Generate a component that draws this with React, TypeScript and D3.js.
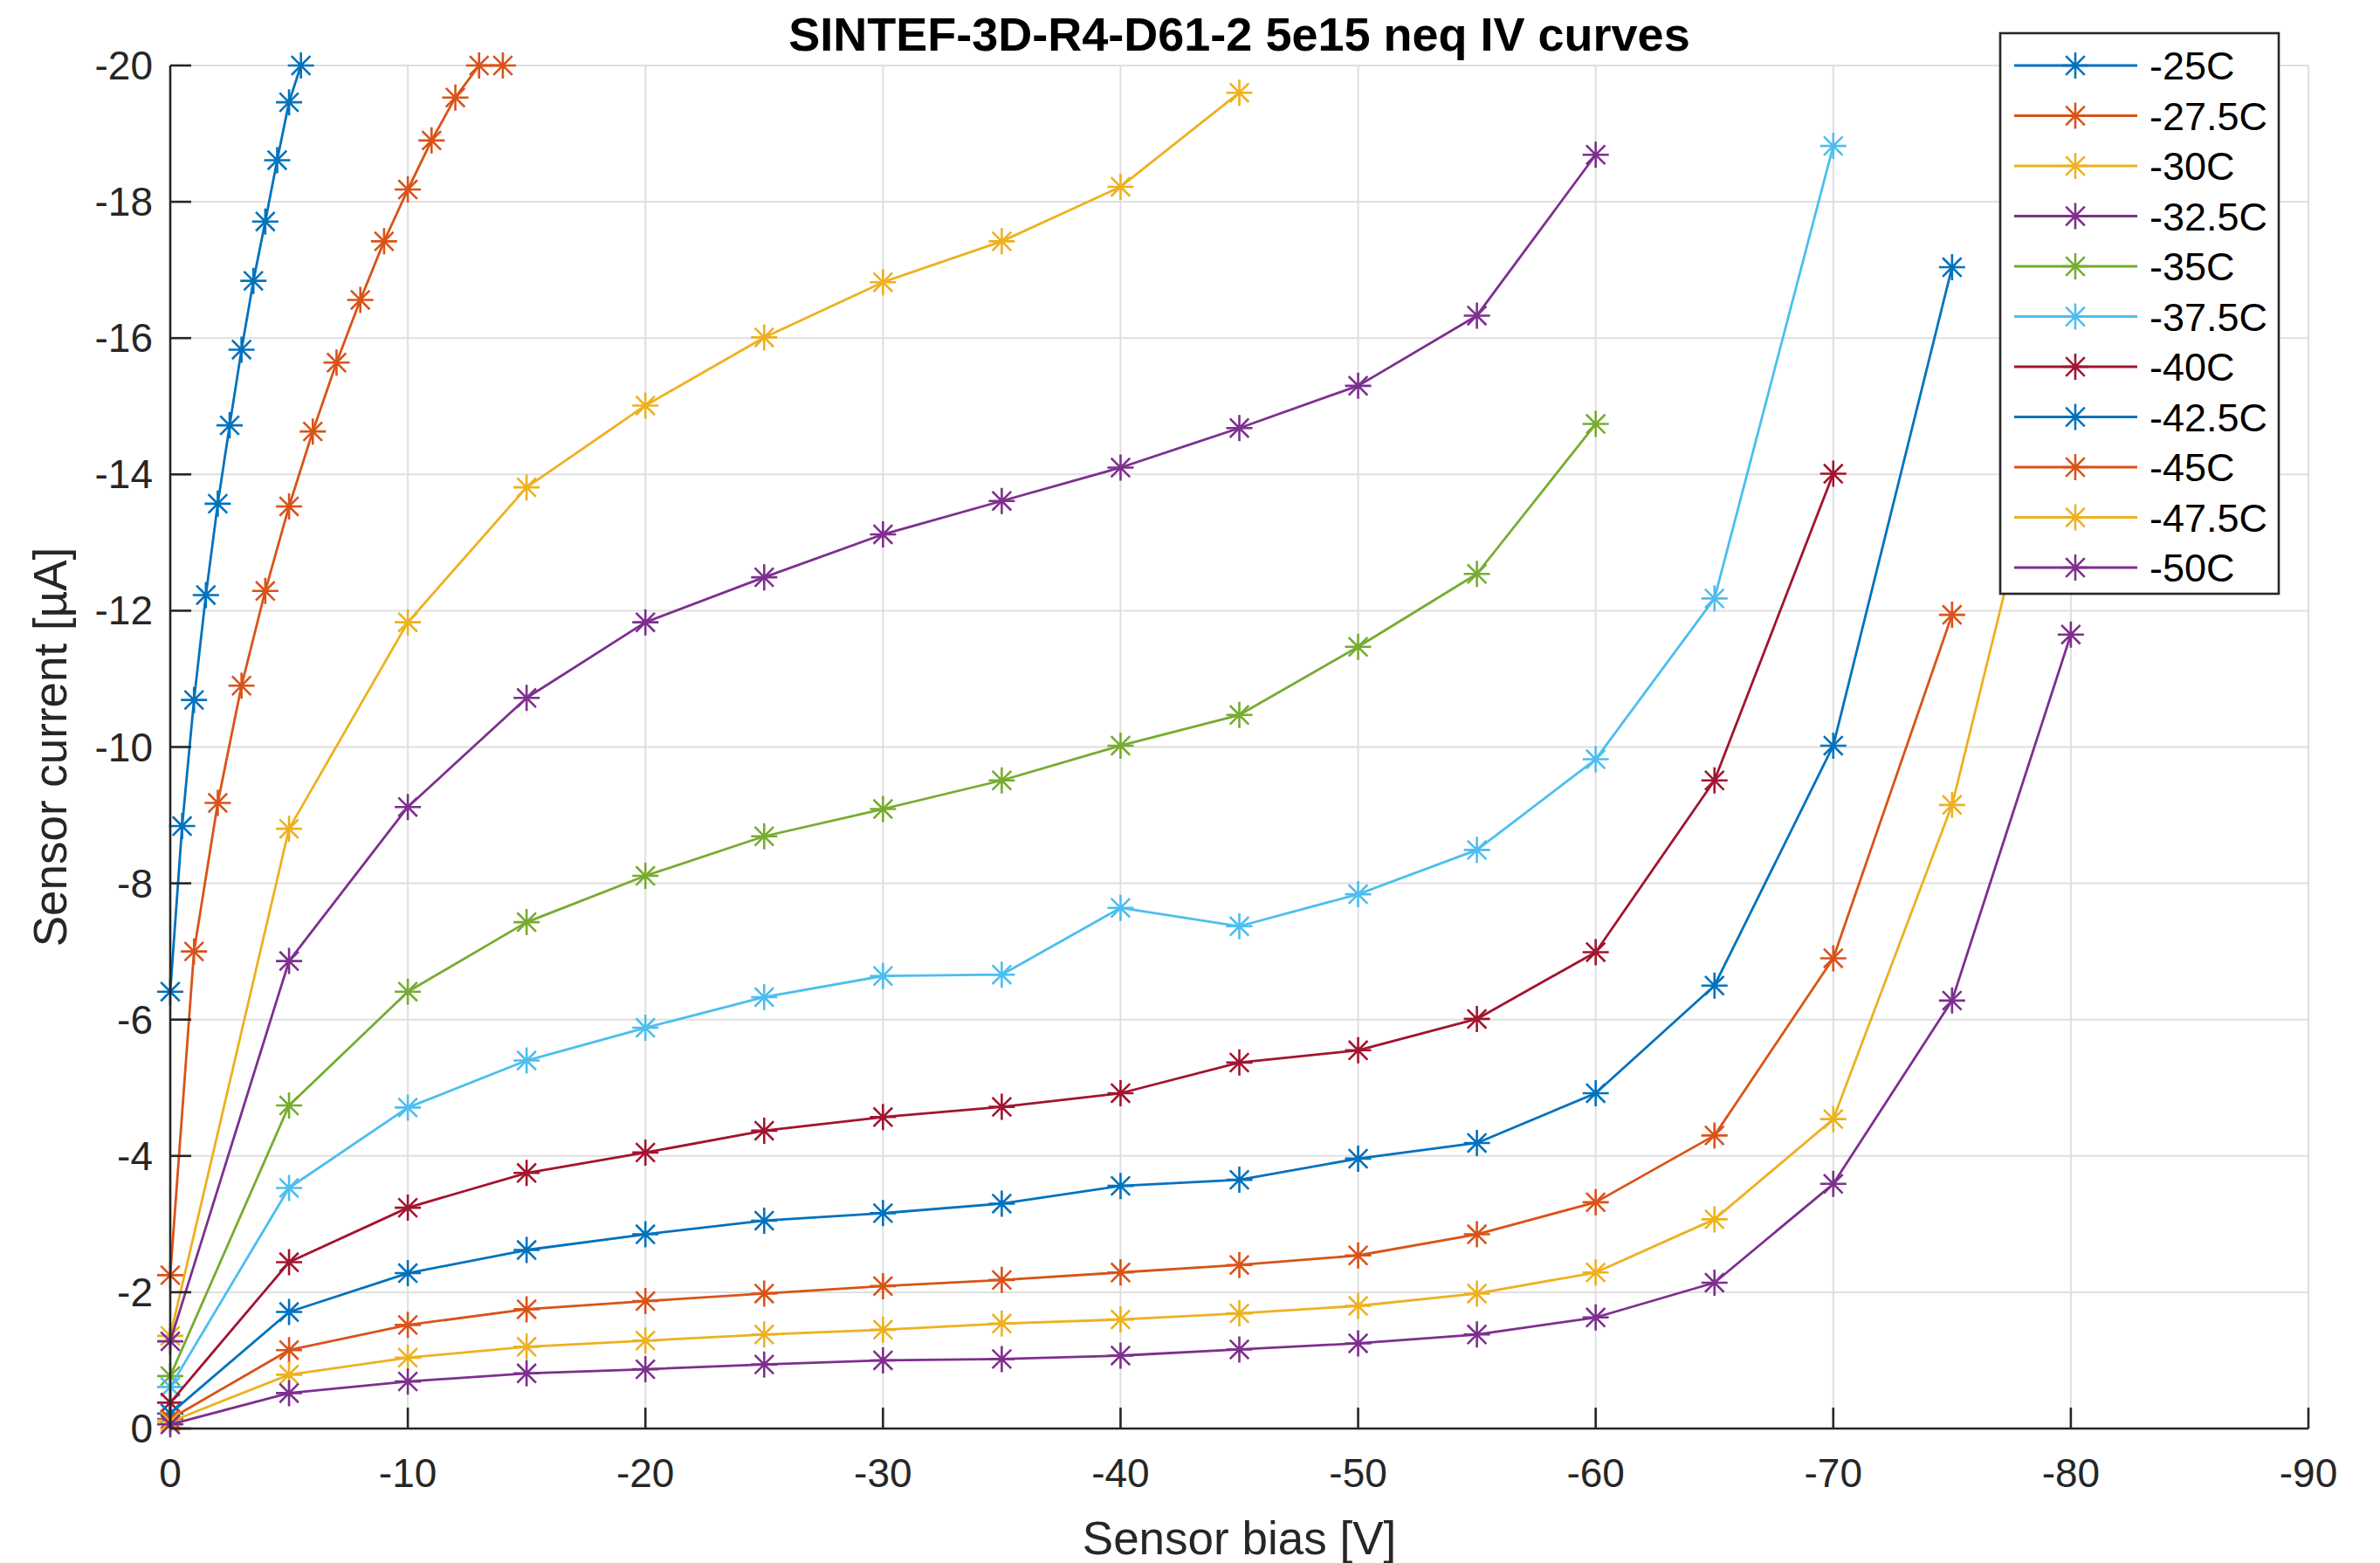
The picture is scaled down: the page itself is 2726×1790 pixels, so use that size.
import React, { useEffect, useRef } from 'react';
import * as d3 from 'd3';

const temps = ['-25C', '-27.5C', '-30C', '-32.5C', '-35C', '-37.5C', '-40C', '-42.5C', '-45C', '-47.5C', '-50C'];
const colors = ['#0072BD', '#D95319', '#EDB120', '#7E2F8E', '#77AC30', '#4DBEEE', '#A2142F', '#0072BD', '#D95319', '#EDB120', '#7E2F8E'];

// bias steps (V)
const biasFine = [0, -0.5, -1, -1.5, -2, -2.5, -3, -3.5, -4, -4.5, -5, -5.5];
const biasMid = [0, -1, -2, -3, -4, -5, -6, -7, -8, -9, -10, -11, -12, -13, -14];
const biasStd = [0, -5, -10, -15, -20, -25, -30, -35, -40, -45, -50, -55, -60, -65, -70, -75, -80];

// currents (uA)
const i25 = [-6.41, -8.84, -10.69, -12.23, -13.57, -14.72, -15.83, -16.84, -17.71, -18.61, -19.46, -20];
const i275 = [-2.25, -7.0, -9.18, -10.9, -12.29, -13.53, -14.63, -15.64, -16.56, -17.42, -18.18, -18.9, -19.53, -20, -20];
const i30 = [-1.36, -8.8, -11.83, -13.81, -15.01, -16.01, -16.82, -17.42, -18.22, -19.6];
const i325 = [-1.28, -6.86, -9.12, -10.72, -11.83, -12.49, -13.12, -13.61, -14.1, -14.68, -15.3, -16.33, -18.69];
const i35 = [-0.77, -4.74, -6.41, -7.43, -8.11, -8.69, -9.09, -9.51, -10.02, -10.47, -11.47, -12.54, -14.74];
const i375 = [-0.61, -3.53, -4.71, -5.4, -5.88, -6.33, -6.64, -6.66, -7.64, -7.37, -7.84, -8.49, -9.82, -12.18, -18.82];
const i40 = [-0.38, -2.44, -3.24, -3.75, -4.05, -4.37, -4.57, -4.72, -4.92, -5.37, -5.55, -6.01, -6.99, -9.51, -14.01];
const i425 = [-0.22, -1.71, -2.28, -2.62, -2.85, -3.05, -3.16, -3.3, -3.56, -3.65, -3.96, -4.19, -4.92, -6.5, -10.02, -17.04];
const i45 = [-0.14, -1.15, -1.52, -1.75, -1.87, -1.98, -2.09, -2.18, -2.29, -2.4, -2.54, -2.85, -3.32, -4.3, -6.9, -11.94];
const i475 = [-0.1, -0.79, -1.04, -1.2, -1.29, -1.38, -1.45, -1.54, -1.6, -1.69, -1.8, -1.98, -2.29, -3.07, -4.54, -9.15, -16.2];
const i50 = [-0.06, -0.52, -0.69, -0.81, -0.87, -0.94, -1.0, -1.02, -1.07, -1.16, -1.25, -1.38, -1.63, -2.14, -3.59, -6.28, -11.65];

const currents = [i25, i275, i30, i325, i35, i375, i40, i425, i45, i475, i50];
const biases = [biasFine, biasMid, biasStd, biasStd, biasStd, biasStd, biasStd, biasStd, biasStd, biasStd, biasStd];

const xTicks = [0, -10, -20, -30, -40, -50, -60, -70, -80, -90];
const yTicks = [0, -2, -4, -6, -8, -10, -12, -14, -16, -18, -20];

const W = 2726;
const H = 1790;
const FONT = '"Liberation Sans", Arial, Helvetica, sans-serif';
const INK = '#262626';

const asterisk = (g, cx, cy, r, color) => {
    const d = r * 0.72;
    g.append('path')
        .attr('d', `M${cx - r},${cy}H${cx + r}M${cx},${cy - r}V${cy + r}M${cx - d},${cy - d}L${cx + d},${cy + d}M${cx - d},${cy + d}L${cx + d},${cy - d}`)
        .attr('stroke', color)
        .attr('stroke-width', 2.6)
        .attr('fill', 'none');
};

const App = () => {
    const svgRef = useRef(null);

    useEffect(() => {
        const svg = d3.select(svgRef.current);
        svg.selectAll('*').remove();

        const margin = { left: 195, right: W - 2644, top: 75, bottom: H - 1636 };

        const x = d3.scaleLinear().domain([0, -90]).range([margin.left, W - margin.right]);
        const y = d3.scaleLinear().domain([0, -20]).range([H - margin.bottom, margin.top]);

        svg.append('rect').attr('width', W).attr('height', H).attr('fill', 'white');

        // grid
        const grid = svg.append('g');
        grid.selectAll('.gx').data(xTicks.slice(1)).enter().append('line')
            .attr('x1', d => x(d)).attr('x2', d => x(d))
            .attr('y1', y(0)).attr('y2', y(-20))
            .attr('stroke', '#dfdfdf').attr('stroke-width', 2);
        grid.selectAll('.gy').data(yTicks.slice(1)).enter().append('line')
            .attr('x1', x(0)).attr('x2', x(-90))
            .attr('y1', d => y(d)).attr('y2', d => y(d))
            .attr('stroke', '#dfdfdf').attr('stroke-width', 2);

        // series
        const line = d3.line().x(d => x(d[0])).y(d => y(d[1]));
        currents.forEach((cur, k) => {
            const pts = cur.map((v, i) => [biases[k][i], v]);
            const g = svg.append('g');
            g.append('path')
                .datum(pts)
                .attr('d', line)
                .attr('fill', 'none')
                .attr('stroke', colors[k])
                .attr('stroke-width', 2.8)
                .attr('stroke-linejoin', 'round');
            pts.forEach(p => asterisk(g, x(p[0]), y(p[1]), 15, colors[k]));
        });

        // axes
        const tickLen = 24;
        const ax = svg.append('g');
        ax.append('line').attr('x1', x(0)).attr('x2', x(-90)).attr('y1', y(0)).attr('y2', y(0))
            .attr('stroke', INK).attr('stroke-width', 2.6);
        ax.append('line').attr('x1', x(0)).attr('x2', x(0)).attr('y1', y(0)).attr('y2', y(-20))
            .attr('stroke', INK).attr('stroke-width', 2.6);
        xTicks.forEach(t => {
            ax.append('line').attr('x1', x(t)).attr('x2', x(t)).attr('y1', y(0)).attr('y2', y(0) - tickLen)
                .attr('stroke', INK).attr('stroke-width', 2.6);
            ax.append('text').attr('x', x(t)).attr('y', y(0) + 67)
                .attr('text-anchor', 'middle').attr('font-family', FONT).attr('font-size', 46).attr('fill', INK)
                .text(String(t));
        });
        yTicks.forEach(t => {
            ax.append('line').attr('x1', x(0)).attr('x2', x(0) + tickLen).attr('y1', y(t)).attr('y2', y(t))
                .attr('stroke', INK).attr('stroke-width', 2.6);
            ax.append('text').attr('x', x(0) - 20).attr('y', y(t) + 16)
                .attr('text-anchor', 'end').attr('font-family', FONT).attr('font-size', 46).attr('fill', INK)
                .text(String(t));
        });

        // labels
        svg.append('text').attr('x', (x(0) + x(-90)) / 2).attr('y', 1780)
            .attr('text-anchor', 'middle').attr('font-family', FONT).attr('font-size', 53).attr('fill', INK)
            .text('Sensor bias [V]');
        svg.append('text')
            .attr('transform', `translate(76, ${(y(0) + y(-20)) / 2}) rotate(-90)`)
            .attr('text-anchor', 'middle').attr('font-family', FONT).attr('font-size', 53).attr('fill', INK)
            .text('Sensor current [µA]');
        svg.append('text').attr('x', (x(0) + x(-90)) / 2).attr('y', 58)
            .attr('text-anchor', 'middle').attr('font-family', FONT).attr('font-size', 54)
            .attr('font-weight', 'bold').attr('fill', 'black')
            .text('SINTEF-3D-R4-D61-2 5e15 neq IV curves');

        // legend
        const lg = svg.append('g');
        const lx = 2291, ly = 38, lw = 319, lh = 642, row = 57.5;
        lg.append('rect').attr('x', lx).attr('y', ly).attr('width', lw).attr('height', lh)
            .attr('fill', 'white').attr('stroke', INK).attr('stroke-width', 2.6);
        temps.forEach((t, k) => {
            const cy = 75 + k * row;
            lg.append('line').attr('x1', 2307).attr('x2', 2448).attr('y1', cy).attr('y2', cy)
                .attr('stroke', colors[k]).attr('stroke-width', 2.8);
            asterisk(lg, 2377, cy, 15, colors[k]);
            lg.append('text').attr('x', 2462).attr('y', cy + 16)
                .attr('font-family', FONT).attr('font-size', 45).attr('fill', 'black')
                .text(t);
        });
    }, []);

    return (
        <svg ref={svgRef} width={W} height={H} style={{ position: 'absolute', left: 0, top: 0 }} />
    );
};

export default App;
